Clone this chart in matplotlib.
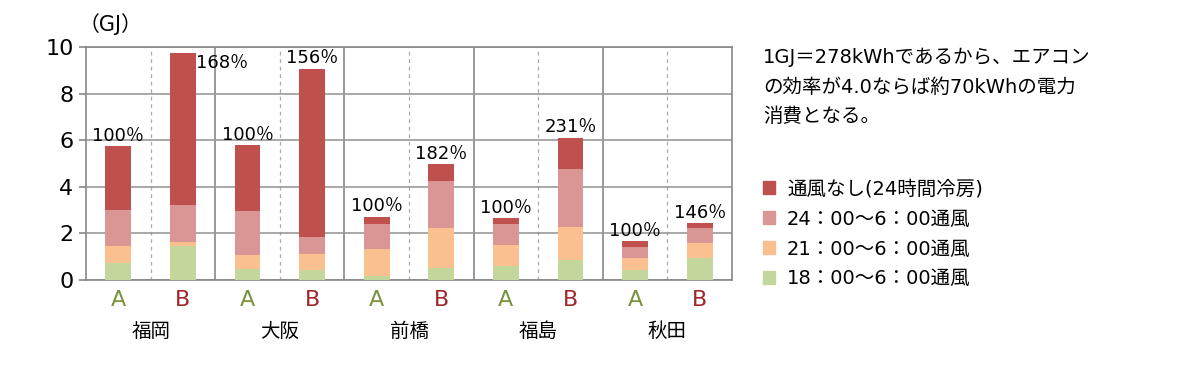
import numpy as np
import matplotlib.pyplot as plt
from matplotlib.transforms import blended_transform_factory
from matplotlib.patches import Patch

plt.rcParams['font.family'] = ['DejaVu Sans', 'Noto Sans CJK JP']

cities = ["福岡", "大阪", "前橋", "福島", "秋田"]
cases = ["A", "B"]
# 各バーの値 (GJ) : 福岡A, 福岡B, 大阪A, 大阪B, 前橋A, 前橋B, 福島A, 福島B, 秋田A, 秋田B
vent_18 = [0.72, 1.47, 0.46, 0.42, 0.18, 0.53, 0.60, 0.84, 0.43, 0.94]
vent_21 = [0.75, 0.15, 0.60, 0.70, 1.16, 1.69, 0.89, 1.45, 0.53, 0.65]
vent_24 = [1.52, 1.58, 1.90, 0.71, 1.08, 2.01, 0.93, 2.49, 0.44, 0.63]
no_vent = [2.77, 6.53, 2.83, 7.24, 0.30, 0.73, 0.22, 1.33, 0.26, 0.21]
pct_labels = ["100％", "168％", "100％", "156％", "100％", "182％", "100％", "231％", "100％", "146％"]

series = [
    ("18：00～6：00通風", vent_18, "#c3d69b"),
    ("21：00～6：00通風", vent_21, "#fac090"),
    ("24：00～6：00通風", vent_24, "#d99694"),
    ("通風なし(24時間冷房)", no_vent, "#c0504d"),
]

fig = plt.figure(figsize=(12, 3.65), dpi=100)
ax = fig.add_axes([0.0717, 0.2329, 0.5383, 0.6384])

x = np.arange(len(vent_18))
bottom = np.zeros(len(x))
for name, vals, col in series:
    ax.bar(x, vals, 0.4, bottom=bottom, color=col, zorder=3)
    bottom += np.array(vals)

for i, (tot, lab) in enumerate(zip(bottom, pct_labels)):
    if lab == "168％":
        ax.text(i + 0.2, tot - 0.4, lab, ha="left", va="center", fontsize=13, zorder=4)
    else:
        ax.text(i, tot + 0.05, lab, ha="center", va="bottom", fontsize=13, zorder=4)

ax.set_xlim(-0.5, len(x) - 0.5)
ax.set_ylim(0, 10)
ax.set_yticks(np.arange(0, 11, 2))
ax.yaxis.grid(True, color="#999999", linewidth=1.2, zorder=0)
for b in np.arange(0.5, len(x) - 0.5, 1):
    if int(b) % 2 == 0:
        ax.axvline(b, color="#aaaaaa", linestyle=(0, (3, 3)), linewidth=0.9, zorder=0)
    else:
        ax.axvline(b, color="#888888", linewidth=1.2, zorder=0)
for s in ax.spines.values():
    s.set_color("#888888")
    s.set_linewidth(1.2)

ax.set_xticks(x)
ax.set_xticklabels(cases * len(cities), fontsize=16)
for t in ax.get_xticklabels():
    t.set_color("#77933c" if t.get_text() == "A" else "#a0282c")
ax.tick_params(axis="x", length=0, pad=7)
ax.tick_params(axis="y", labelsize=16, length=5, color="#888888", width=1.2, pad=4)

trans = blended_transform_factory(ax.transData, fig.transFigure)
for k, c in enumerate(cities):
    ax.text(2 * k + 0.5, 1 - 331 / 365, c, transform=trans, ha="center", va="center", fontsize=14)

fig.text(79 / 1200, 1 - 24 / 365, "（GJ）", ha="left", va="center", fontsize=15)

note = "1GJ＝278kWhであるから、エアコン\nの効率が4.0ならば約70kWhの電力\n消費となる。"
fig.text(763 / 1200, 1 - 48 / 365, note, ha="left", va="top", fontsize=14, linespacing=1.68)

handles = [Patch(color=col, label=name) for name, vals, col in series][::-1]
fig.legend(handles=handles, loc="upper left", bbox_to_anchor=(755 / 1200, 1 - 172 / 365),
           frameon=False, fontsize=14, handlelength=0.65, handleheight=0.65,
           handletextpad=0.6, labelspacing=0.56, borderaxespad=0)

fig.savefig("out.png", dpi=100)
